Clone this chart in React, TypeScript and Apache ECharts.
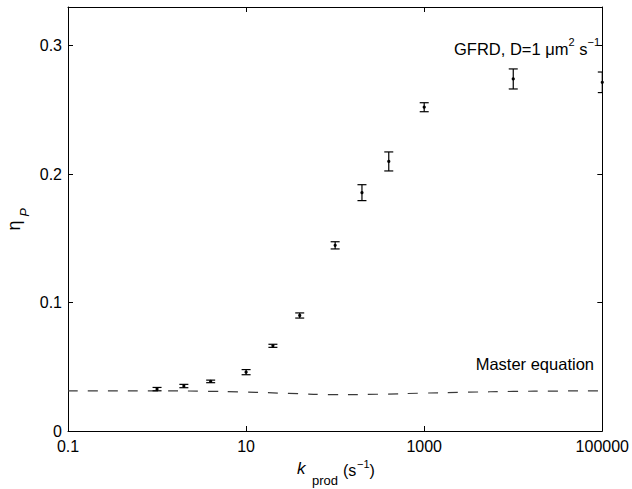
import React, { useEffect, useRef } from 'react';
import * as echarts from 'echarts';

// GFRD simulation points: production rate k_prod (s^-1), noise eta_P, error (half-width)
const kValues = [1, 2, 4, 10, 20, 40, 100, 200, 400, 1000, 10000, 100000];
const etaValues = [0.0326, 0.035, 0.0386, 0.0458, 0.0663, 0.0899, 0.1445, 0.1855, 0.2098, 0.252, 0.274, 0.2714];
const etaErrors = [0.0013, 0.0013, 0.001, 0.002, 0.0012, 0.002, 0.0028, 0.0062, 0.0074, 0.0035, 0.0078, 0.008];

// Master equation curve
const masterK = [0.1, 1, 3, 10, 30, 100, 300, 1000, 3000, 10000, 30000, 100000];
const masterEta = [0.0313, 0.0313, 0.031, 0.0303, 0.0293, 0.0283, 0.0286, 0.0295, 0.0302, 0.0308, 0.0311, 0.0313];

const xTicks = [0.1, 10, 1000, 100000];
const yTicks = [0, 0.1, 0.2, 0.3];

const FONT = "'Liberation Sans', Arial, Helvetica, sans-serif";

export default function App() {
  const ref = useRef<HTMLDivElement>(null);

  useEffect(() => {
    if (!ref.current) return;
    const chart = echarts.init(ref.current, undefined, { renderer: 'svg' });

    const fmt = (v: number) => String(Number(Number(v).toPrecision(6)));
    const axisLine = { show: true, onZero: false, lineStyle: { color: '#000', width: 1 } };
    const tickStyle = { color: '#000', width: 1 };

    const xBase = {
      type: 'log' as const,
      logBase: 10,
      min: 0.1,
      max: 100000,
      axisLine,
      splitLine: { show: false },
      minorTick: { show: false },
    };
    const yBase = {
      type: 'value' as const,
      min: 0,
      max: 0.33,
      interval: 0.1,
      axisLine,
      splitLine: { show: false },
    };

    const errData = kValues.map((k, i) => [k, etaValues[i], etaErrors[i]]);
    const masterData = masterK.map((k, i) => [k, masterEta[i]]);

    chart.setOption({
      animation: false,
      backgroundColor: '#fff',
      grid: { left: 68, right: 26, top: 7, bottom: 58, containLabel: false },
      xAxis: [
        {
          ...xBase,
          position: 'bottom',
          axisTick: { show: true, inside: true, length: 5, customValues: xTicks, lineStyle: tickStyle },
          axisLabel: { show: true, customValues: xTicks, formatter: fmt, color: '#000', fontSize: 16, fontFamily: FONT, margin: 7 },
        },
        {
          ...xBase,
          position: 'top',
          axisTick: { show: true, inside: true, length: 5, customValues: [10, 1000], lineStyle: tickStyle },
          axisLabel: { show: false },
        },
      ],
      yAxis: [
        {
          ...yBase,
          position: 'left',
          axisTick: { show: true, inside: true, length: 5, customValues: [0.1, 0.2, 0.3], lineStyle: tickStyle },
          axisLabel: {
            show: true,
            customValues: yTicks,
            formatter: (v: number) => String(Number(Number(v).toFixed(2))),
            color: '#000',
            fontSize: 16,
            fontFamily: FONT,
            margin: 6,
          },
        },
        {
          ...yBase,
          position: 'right',
          axisTick: { show: true, inside: true, length: 5, customValues: [0.1, 0.2, 0.3], lineStyle: tickStyle },
          axisLabel: { show: false },
        },
      ],
      series: [
        {
          type: 'line',
          name: 'Master equation',
          xAxisIndex: 0,
          yAxisIndex: 0,
          data: masterData,
          smooth: true,
          showSymbol: false,
          symbol: 'none',
          lineStyle: { color: '#3a3a3a', width: 1.2, type: [10, 10] },
          z: 2,
        },
        {
          type: 'custom',
          name: 'GFRD',
          xAxisIndex: 0,
          yAxisIndex: 0,
          encode: { x: 0, y: 1 },
          data: errData,
          z: 3,
          renderItem: (params: any, api: any) => {
            const x = api.value(0);
            const y = api.value(1);
            const e = api.value(2);
            const p = api.coord([x, y]);
            const hi = api.coord([x, y + e]);
            const lo = api.coord([x, y - e]);
            const cs = params.coordSys;
            const right = cs.x + cs.width;
            const hw = 4.5;
            const x1 = p[0] - hw;
            const x2 = Math.min(p[0] + hw, right);
            const st = { stroke: '#000', lineWidth: 1.2 };
            return {
              type: 'group',
              children: [
                { type: 'line', shape: { x1: p[0], y1: hi[1], x2: p[0], y2: lo[1] }, style: st },
                { type: 'line', shape: { x1, y1: hi[1], x2, y2: hi[1] }, style: st },
                { type: 'line', shape: { x1, y1: lo[1], x2, y2: lo[1] }, style: st },
                { type: 'circle', shape: { cx: p[0], cy: p[1], r: 1.6 }, style: { fill: '#000' } },
              ],
            };
          },
        },
      ],
      graphic: [
        {
          type: 'text',
          x: 600,
          y: 49,
          style: {
            text: '{a|GFRD, D=1 μm}{s|2}{a| s}{s|−1}',
            align: 'right',
            verticalAlign: 'middle',
            fill: '#000',
            rich: {
              a: { fontSize: 16.5, fontFamily: FONT, lineHeight: 26, fill: '#000' },
              s: { fontSize: 11, fontFamily: FONT, lineHeight: 11, verticalAlign: 'top', fill: '#000' },
            },
          },
        },
        {
          type: 'text',
          x: 594,
          y: 364,
          style: { text: 'Master equation', align: 'right', verticalAlign: 'middle', fontSize: 16.5, fontFamily: FONT, fill: '#000' },
        },
        // y axis title: eta_P (rotated)
        {
          type: 'text',
          x: 14,
          y: 225.5,
          rotation: Math.PI / 2,
          style: { text: 'η', align: 'center', verticalAlign: 'middle', fontSize: 18, fontFamily: FONT, fill: '#000' },
        },
        {
          type: 'text',
          x: 24,
          y: 212.5,
          rotation: Math.PI / 2,
          style: { text: 'P', align: 'center', verticalAlign: 'middle', fontSize: 13, fontStyle: 'italic', fontFamily: FONT, fill: '#000' },
        },
        // x axis title: k_prod (s^-1)
        {
          type: 'text',
          x: 297,
          y: 468,
          style: { text: 'k', align: 'left', verticalAlign: 'middle', fontSize: 17, fontStyle: 'italic', fontFamily: FONT, fill: '#000' },
        },
        {
          type: 'text',
          x: 312,
          y: 480,
          style: { text: 'prod', align: 'left', verticalAlign: 'middle', fontSize: 13, fontFamily: FONT, fill: '#000' },
        },
        {
          type: 'text',
          x: 343,
          y: 470.5,
          style: { text: '(s', align: 'left', verticalAlign: 'middle', fontSize: 16, fontFamily: FONT, fill: '#000' },
        },
        {
          type: 'text',
          x: 357,
          y: 464,
          style: { text: '−1', align: 'left', verticalAlign: 'middle', fontSize: 11, fontFamily: FONT, fill: '#000' },
        },
        {
          type: 'text',
          x: 369.5,
          y: 470.5,
          style: { text: ')', align: 'left', verticalAlign: 'middle', fontSize: 16, fontFamily: FONT, fill: '#000' },
        },
      ],
    });

    return () => {
      chart.dispose();
    };
  }, []);

  return (
    <div
      ref={ref}
      style={{ position: 'fixed', left: 0, top: 0, width: 632, height: 489, background: '#fff' }}
    />
  );
}
